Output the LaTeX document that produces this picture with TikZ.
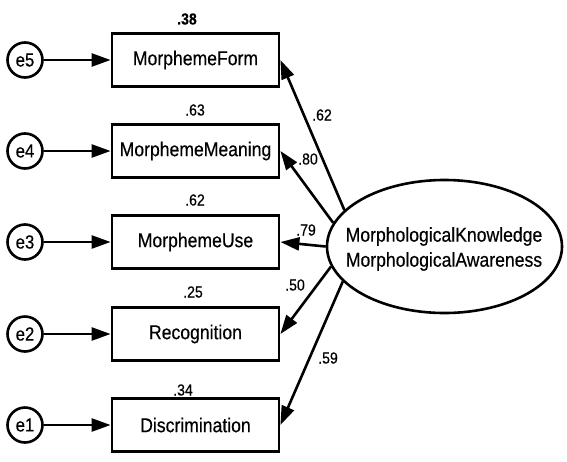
\documentclass[tikz,border=0pt]{standalone}
\usepackage{fontspec}
\setmainfont{Liberation Sans}[FakeStretch=0.88,FakeBold=0.4]
\usetikzlibrary{arrows.meta,shapes.geometric}
\begin{document}
\begin{tikzpicture}[x=1pt,y=-1pt,
  obs/.style={draw,line width=2.8pt,minimum width=167pt,minimum height=53pt,inner sep=0pt,font=\fontsize{20}{22}\selectfont},
  err/.style={draw,circle,line width=2.6pt,minimum size=35pt,inner sep=0pt,font=\fontsize{19}{20}\selectfont},
  lat/.style={draw,ellipse,line width=2.6pt,minimum width=235pt,minimum height=133pt,inner sep=0pt},
  lattext/.style={align=center,inner sep=0pt,font=\fontsize{20}{25}\selectfont},
  arr/.style={line width=2.6pt,-{Triangle[length=19pt,width=13pt]}},
  r2/.style={font=\fontsize{16}{18}\selectfont},
  wt/.style={font=\fontsize{16}{18}\selectfont}]
\useasboundingbox (0,0) rectangle (567,461);
\node[obs] (b5) at (195.5,60) {MorphemeForm};
\node[obs] (b4) at (195.5,151) {MorphemeMeaning};
\node[obs] (b3) at (195.5,242) {MorphemeUse};
\node[obs] (b2) at (195.5,334) {Recognition};
\node[obs] (b1) at (195.5,425) {Discrimination};
\node[err] (e5) at (25,60) {e5};
\node[err] (e4) at (25,151) {e4};
\node[err] (e3) at (25,242) {e3};
\node[err] (e2) at (25,334) {e2};
\node[err] (e1) at (25,425) {e1};
\foreach \i in {1,...,5} {\draw[arr] (e\i) -- (b\i.west);}
\node[r2] (r5) at (187,19) {\bfseries .38};
\node[r2] (r4) at (195,110) {.63};
\node[r2] (r3) at (195,200) {.62};
\node[r2] (r1) at (193,292) {.25};
\node[r2] (r0) at (183,390) {.34};
\node[lat] (K) at (444.5,246.5) {};
\node[lattext] (Kt) at (444,249) {MorphologicalKnowledge\\MorphologicalAwareness};
\draw[arr] (K.160.4) -- (b5.east);
\draw[arr] (K.168.4) -- (b4.east);
\draw[arr] (K.180) -- (b3.east);
\draw[arr] (K.190.6) -- (b2.east);
\draw[arr] (K.199.3) -- (b1.east);
\node[wt] (w5) at (322,115) {.62};
\node[wt] (w4) at (308,159) {.80};
\node[wt] (w3) at (306,230) {.79};
\node[wt] (w2) at (295,285) {.50};
\node[wt] (w1) at (328,358) {.59};
\end{tikzpicture}
\end{document}
